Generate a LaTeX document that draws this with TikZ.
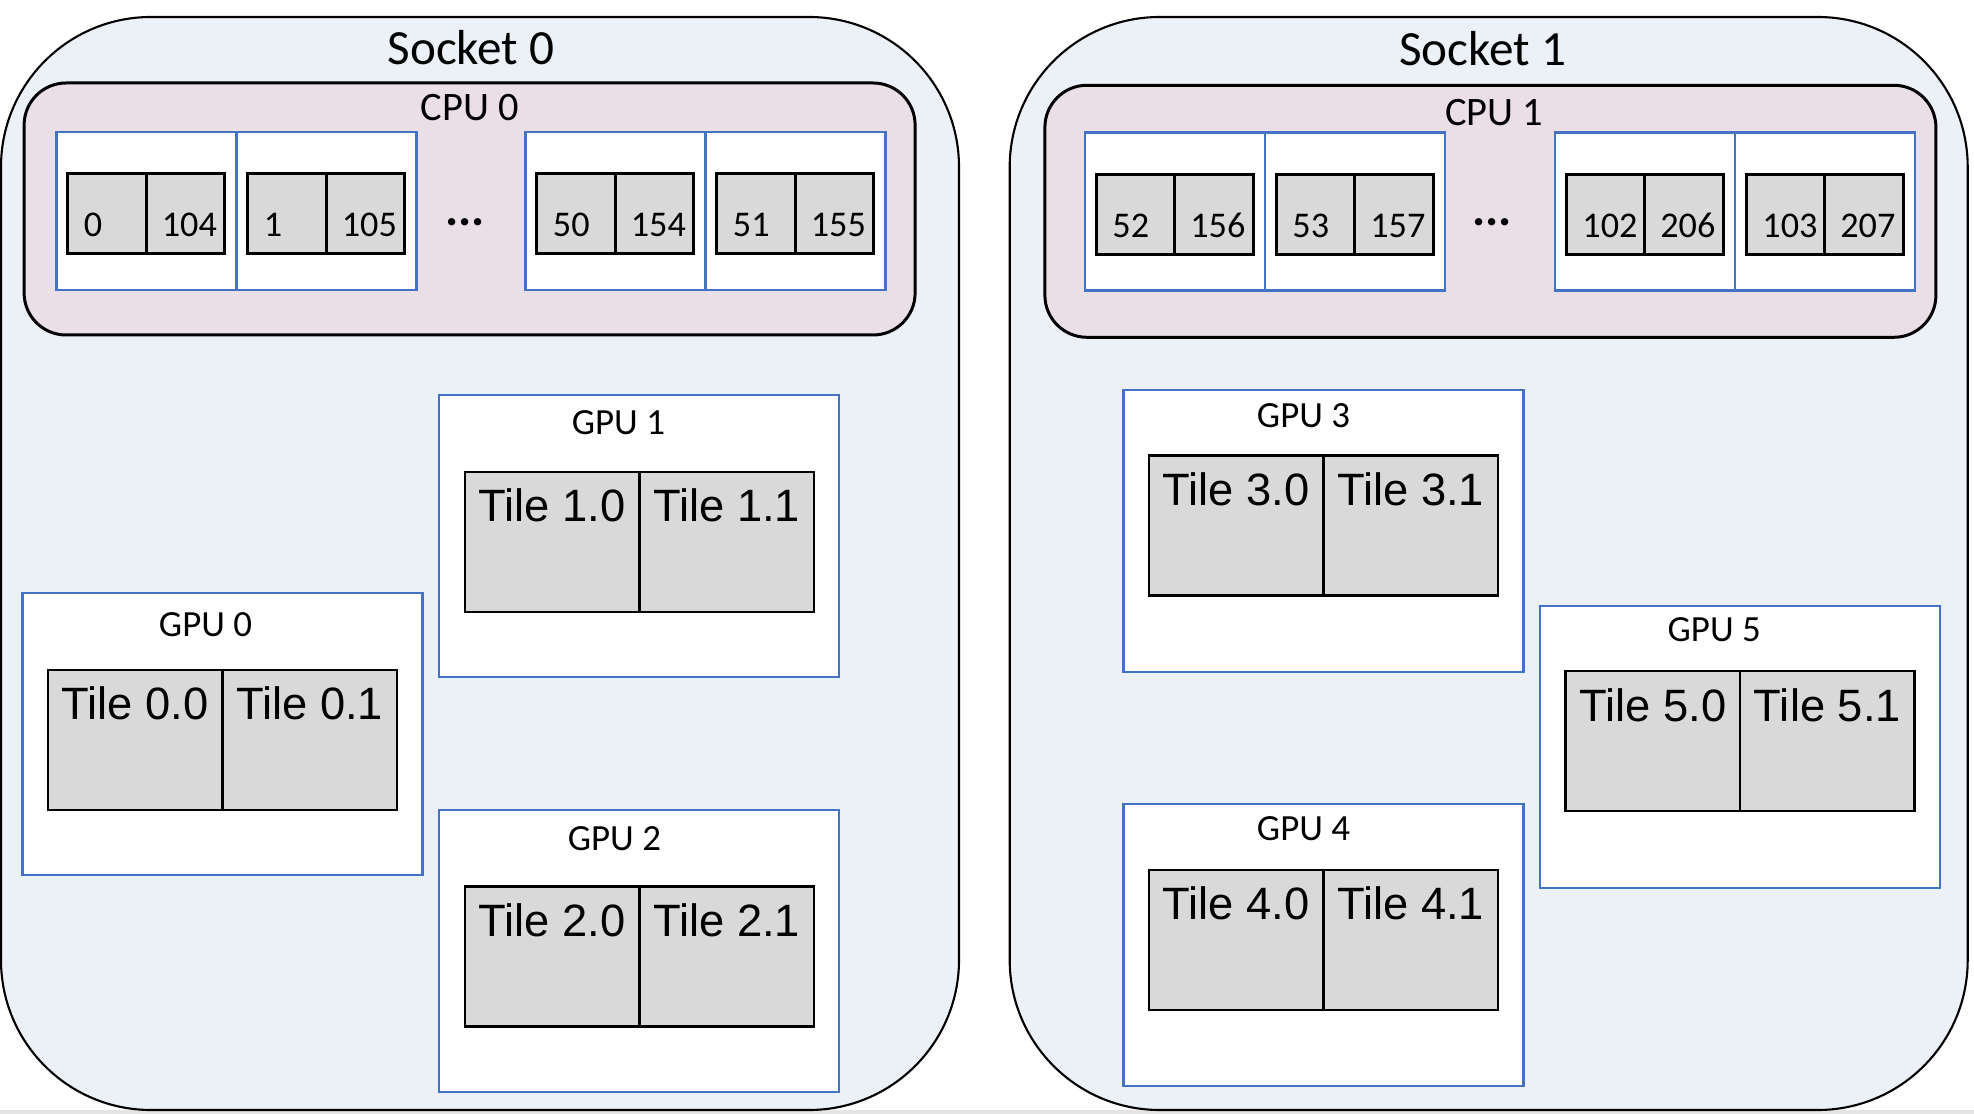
\documentclass[tikz,border=0pt]{standalone}
\usepackage{fontspec}
\setmainfont{Carlito}
\newfontfamily\arialfont{Liberation Sans}
\usepackage{tikz}
\usetikzlibrary{positioning}

\definecolor{socketfill}{HTML}{ECF1F8}
\definecolor{cpufill}{HTML}{EADFE6}
\definecolor{coreblue}{HTML}{4472C4}
\definecolor{cellgrey}{HTML}{D9D9D9}
\definecolor{stripgrey}{HTML}{E4E4E4}

\begin{document}
\begin{tikzpicture}[outer sep=0pt]
\tikzstyle{socket}=[draw=black,fill=socketfill,rounded corners=1.5cm,minimum width=9.58cm,minimum height=10.93cm,line width=0.6pt]
\tikzstyle{cpu}=[draw=black,fill=cpufill,rounded corners=0.42cm,minimum width=8.91cm,minimum height=2.52cm,line width=0.85pt]
\tikzstyle{core}=[draw=coreblue,fill=white,minimum width=1.80cm,minimum height=1.58cm,line width=0.7pt]
\tikzstyle{lcell}=[draw=black,fill=cellgrey,minimum width=0.785cm,minimum height=0.80cm,inner xsep=0.16cm,inner ysep=0pt,text width=0.465cm,align=left,text height=0.46cm,text depth=0pt,line width=0.85pt,font=\fontsize{10.3pt}{12pt}\selectfont]
\tikzstyle{rcell}=[lcell,inner xsep=0.08cm,text width=0.625cm,align=right]
\tikzstyle{gpu}=[draw=coreblue,fill=white,minimum width=4.0cm,minimum height=2.82cm,line width=0.6pt]
\tikzstyle{tile}=[draw=black,fill=cellgrey,minimum width=1.745cm,minimum height=1.40cm,inner sep=0pt,text height=0.33cm,text depth=0.73cm,line width=0.7pt,font=\fontsize{12.9pt}{15pt}\arialfont]
\tikzstyle{title}=[font=\fontsize{14pt}{17pt}\selectfont]
\tikzstyle{sublabel}=[font=\fontsize{11.5pt}{13.5pt}\selectfont]
\tikzstyle{gpulabel}=[font=\fontsize{10.5pt}{12.5pt}\selectfont]
\tikzstyle{dots}=[font=\fontsize{14pt}{17pt}\selectfont\bfseries]

\useasboundingbox (0,0) rectangle (19.74,11.14);
\fill[stripgrey] (0,0) rectangle (19.74,0.04);

        % sockets
        \node[socket]   (s0)    at (4.80,5.505)     {};
        \node[title]    (s0l)   at ([xshift=-0.09cm,yshift=-0.31cm]s0.north)   {Socket 0};
        \node[socket]   (s1)    at (14.887,5.505)   {};
        \node[title]    (s1l)   at ([xshift=-0.06cm,yshift=-0.32cm]s1.north)   {Socket 1};

        % cpus
        \node[cpu]      (cpu0)  at (4.696,9.05)     {};
        \node[sublabel] (cpu0l) at ([yshift=-0.25cm]cpu0.north)   {CPU 0};
        \node[cpu]      (cpu1)  at (14.904,9.027)   {};
        \node[sublabel] (cpu1l) at ([xshift=0.04cm,yshift=-0.27cm]cpu1.north)   {CPU 1};

        % cores of cpu 0
        \node[core]     (k0)    at (1.464,9.03)     {};
        \node[core]     (k1)    [right=0pt of k0]   {};
        \node[core]     (k2)    [right=1.09cm of k1] {};
        \node[core]     (k3)    [right=0pt of k2]   {};
        \node[dots]     (d0)    at (4.65,8.92)      {...};

        \node[lcell,anchor=east]    (k0l)   at ([yshift=-0.03cm]k0.center)  {0};
        \node[rcell]                (k0r)   [right=0pt of k0l]              {104};
        \node[lcell,anchor=east]    (k1l)   at ([yshift=-0.03cm]k1.center)  {1};
        \node[rcell]                (k1r)   [right=0pt of k1l]              {105};
        \node[lcell,anchor=east]    (k2l)   at ([yshift=-0.03cm]k2.center)  {50};
        \node[rcell]                (k2r)   [right=0pt of k2l]              {154};
        \node[lcell,anchor=east]    (k3l)   at ([yshift=-0.03cm]k3.center)  {51};
        \node[rcell]                (k3r)   [right=0pt of k3l]              {155};

        % cores of cpu 1
        \node[core]     (k4)    at (11.749,9.025)   {};
        \node[core]     (k5)    [right=0pt of k4]   {};
        \node[core]     (k6)    [right=1.10cm of k5] {};
        \node[core]     (k7)    [right=0pt of k6]   {};
        \node[dots]     (d1)    at (14.92,8.92)     {...};

        \node[lcell,anchor=east]    (k4l)   at ([yshift=-0.03cm]k4.center)  {52};
        \node[rcell]                (k4r)   [right=0pt of k4l]              {156};
        \node[lcell,anchor=east]    (k5l)   at ([yshift=-0.03cm]k5.center)  {53};
        \node[rcell]                (k5r)   [right=0pt of k5l]              {157};
        \node[lcell,anchor=east]    (k6l)   at ([yshift=-0.03cm]k6.center)  {102};
        \node[rcell]                (k6r)   [right=0pt of k6l]              {206};
        \node[lcell,anchor=east]    (k7l)   at ([yshift=-0.03cm]k7.center)  {103};
        \node[rcell]                (k7r)   [right=0pt of k7l]              {207};

        % gpus of socket 0
        \node[gpu]      (g0)    at (2.225,3.80)     {};
        \node[gpulabel] (g0l)   at ([xshift=-0.17cm,yshift=-0.32cm]g0.north)   {GPU 0};
        \node[tile,anchor=north east]   (t00)   at ([yshift=-0.77cm]g0.north)   {Tile 0.0};
        \node[tile]                     (t01)   [right=0pt of t00]              {Tile 0.1};

        \node[gpu]      (g1)    at (6.394,5.781)    {};
        \node[gpulabel] (g1l)   at ([xshift=-0.21cm,yshift=-0.28cm]g1.north)   {GPU 1};
        \node[tile,anchor=north east]   (t10)   at ([yshift=-0.77cm]g1.north)   {Tile 1.0};
        \node[tile]                     (t11)   [right=0pt of t10]              {Tile 1.1};

        \node[gpu]      (g2)    at (6.394,1.633)    {};
        \node[gpulabel] (g2l)   at ([xshift=-0.25cm,yshift=-0.29cm]g2.north)   {GPU 2};
        \node[tile,anchor=north east]   (t20)   at ([yshift=-0.77cm]g2.north)   {Tile 2.0};
        \node[tile]                     (t21)   [right=0pt of t20]              {Tile 2.1};

        % gpus of socket 1
        \node[gpu]      (g3)    at (13.235,5.834)   {};
        \node[gpulabel] (g3l)   at ([xshift=-0.20cm,yshift=-0.26cm]g3.north)   {GPU 3};
        \node[tile,anchor=north east]   (t30)   at ([yshift=-0.66cm]g3.north)   {Tile 3.0};
        \node[tile]                     (t31)   [right=0pt of t30]              {Tile 3.1};

        \node[gpu]      (g4)    at (13.235,1.69)    {};
        \node[gpulabel] (g4l)   at ([xshift=-0.20cm,yshift=-0.25cm]g4.north)   {GPU 4};
        \node[tile,anchor=north east]   (t40)   at ([yshift=-0.66cm]g4.north)   {Tile 4.0};
        \node[tile]                     (t41)   [right=0pt of t40]              {Tile 4.1};

        \node[gpu]      (g5)    at (17.402,3.668)   {};
        \node[gpulabel] (g5l)   at ([xshift=-0.26cm,yshift=-0.23cm]g5.north)   {GPU 5};
        \node[tile,anchor=north east]   (t50)   at ([yshift=-0.65cm]g5.north)   {Tile 5.0};
        \node[tile]                     (t51)   [right=0pt of t50]              {Tile 5.1};

\end{tikzpicture}
\end{document}
